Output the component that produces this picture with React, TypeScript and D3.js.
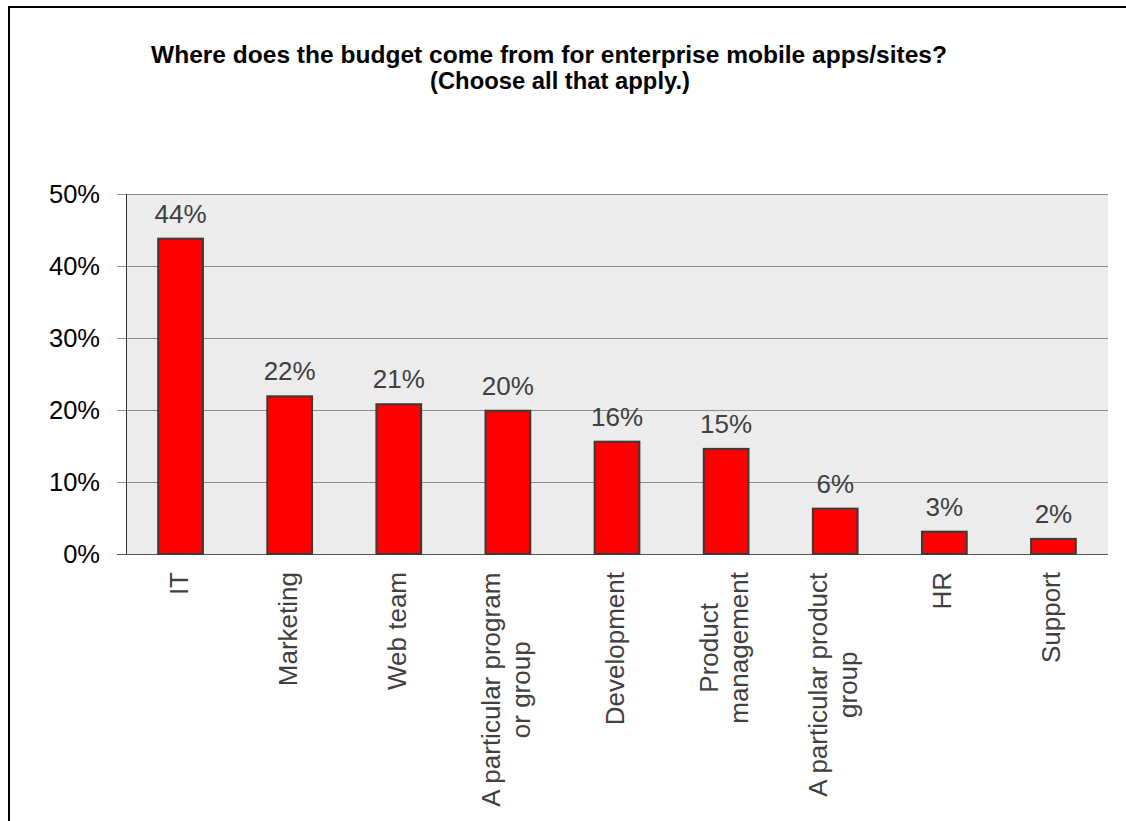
import React from "react";
import * as d3 from "d3";

const categories: string[][] = [
  ["IT"],
  ["Marketing"],
  ["Web team"],
  ["A particular program", "or group"],
  ["Development"],
  ["Product", "management"],
  ["A particular product", "group"],
  ["HR"],
  ["Support"],
];
const values: number[] = [0.438, 0.219, 0.208, 0.199, 0.156, 0.146, 0.063, 0.031, 0.021];
const valueLabels: string[] = ["44%", "22%", "21%", "20%", "16%", "15%", "6%", "3%", "2%"];
const yTicks: number[] = [0, 0.1, 0.2, 0.3, 0.4, 0.5];
const titleLines: string[] = [
  "Where does the budget come from for enterprise mobile apps/sites?",
  "(Choose all that apply.)",
];

const W = 1126;
const H = 821;
const left = 126;
const right = 1108;
const top = 194;
const bottom = 554;
const FONT = "'Liberation Sans', Arial, sans-serif";
const LABEL_FS = 26;

export default function App() {
  const x = d3
    .scaleBand<number>()
    .domain(d3.range(categories.length))
    .range([left, right])
    .paddingInner(0.59)
    .paddingOuter(0.295);
  const y = d3.scaleLinear().domain([0, 0.5]).range([bottom, top]);
  const fmt = d3.format(".0%");

  return (
    <svg
      width={W}
      height={H}
      style={{ position: "absolute", left: 0, top: 0, background: "#fff" }}
      fontFamily={FONT}
    >
      <rect x={9} y={7} width={1300} height={1000} fill="none" stroke="#000" strokeWidth={2} />
      {/* title */}
      <text
        x={549}
        y={63}
        textAnchor="middle"
        fontSize={23}
        fontWeight="bold"
        fill="#000"
        textLength={796}
        lengthAdjust="spacingAndGlyphs"
      >
        {titleLines[0]}
      </text>
      <text
        x={560}
        y={89}
        textAnchor="middle"
        fontSize={23}
        fontWeight="bold"
        fill="#000"
        textLength={260}
        lengthAdjust="spacingAndGlyphs"
      >
        {titleLines[1]}
      </text>
      {/* plot background */}
      <rect x={left} y={top} width={right - left} height={bottom - top} fill="#ececec" />
      {/* gridlines & ticks */}
      {yTicks.map((t) => (
        <g key={t}>
          <line
            x1={117}
            x2={right}
            y1={y(t) + 0.5}
            y2={y(t) + 0.5}
            stroke={t === 0 ? "#555" : "#8c8c8c"}
            strokeWidth={1}
          />
          <text x={100} y={y(t)} dy="0.35em" textAnchor="end" fontSize={25.5} fill="#000">
            {fmt(t)}
          </text>
        </g>
      ))}
      <line x1={left + 0.5} x2={left + 0.5} y1={top} y2={bottom} stroke="#333" strokeWidth={1} />
      {/* bars */}
      {values.map((v, i) => (
        <g key={i}>
          <rect
            x={x(i)!}
            y={y(v)}
            width={x.bandwidth()}
            height={bottom - y(v)}
            fill="#ff0000"
            stroke="#3a3a3a"
            strokeWidth={2}
          />
          <text
            x={x(i)! + x.bandwidth() / 2}
            y={y(v) - 16}
            textAnchor="middle"
            fontSize={26}
            fill="#404040"
          >
            {valueLabels[i]}
          </text>
        </g>
      ))}
      {/* category labels */}
      {categories.map((lines, i) => {
        const cx = x(i)! + x.bandwidth() / 2;
        const n = lines.length;
        const half = n === 1 ? 0 : maxHalf(lines);
        return (
          <g key={i} transform={`translate(${cx},572) rotate(-90)`}>
            {lines.map((ln, j) => (
              <text
                key={j}
                x={n === 1 ? 0 : -half}
                y={7 + (j - (n - 1) / 2) * 30}
                textAnchor={n === 1 ? "end" : "middle"}
                fontSize={LABEL_FS}
                fill="#404040"
              >
                {ln}
              </text>
            ))}
          </g>
        );
      })}
    </svg>
  );
}

function maxHalf(lines: string[]): number {
  const longest = d3.max(lines, (l) => measure(l)) || 0;
  return longest / 2;
}

let ctx: CanvasRenderingContext2D | null = null;
function measure(s: string): number {
  if (!ctx) {
    const c = document.createElement("canvas");
    ctx = c.getContext("2d");
  }
  if (!ctx) return s.length * 12;
  ctx.font = `${LABEL_FS}px ${FONT}`;
  return ctx.measureText(s).width;
}
